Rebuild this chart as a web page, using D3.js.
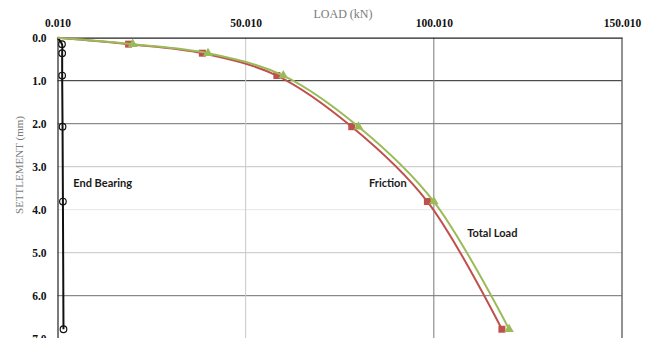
<!DOCTYPE html>
<html>
<head>
<meta charset="utf-8">
<script src="https://cdn.jsdelivr.net/npm/d3@7/dist/d3.min.js"></script>
<style>
  html, body { margin: 0; padding: 0; background: #fff; }
  svg { display: block; }
</style>
</head>
<body>
<svg id="chart" width="656" height="338"></svg>
<script>
// Load-settlement readings (load in kN, settlement in mm)
const settlement = [0, 0.15, 0.36, 0.88, 2.07, 3.81, 6.78];
const endBearing = [0, 1.2, 1.25, 1.25, 1.35, 1.45, 1.6];
const friction   = [0, 18.9, 38.5, 58.3, 78.2, 98.3, 118.1];
const totalLoad  = [0, 20, 40, 60, 80, 100, 120];

const xTicks = [0.01, 50.01, 100.01, 150.01];
const yTicks = [0, 1, 2, 3, 4, 5, 6, 7];

const svg = d3.select("#chart");
const plotLeft = 57.5, plotRight = 622, plotTop = 37.7, plotBottom = 338.7;

const x = d3.scaleLinear().domain([0.01, 150.01]).range([plotLeft, plotRight]);
const y = d3.scaleLinear().domain([0, 7]).range([plotTop, plotBottom]);

// Gridlines (shade varies slightly line to line)
const hShade = { 1: "#222", 2: "#6e6e6e", 3: "#c4c4c4", 4: "#e6e6e6", 5: "#c4c4c4", 6: "#6e6e6e", 7: "#aaa" };
const grid = svg.append("g");
grid.selectAll("line.h").data(yTicks.slice(1)).join("line")
  .attr("x1", plotLeft).attr("x2", plotRight)
  .attr("y1", d => y(d)).attr("y2", d => y(d))
  .attr("stroke", d => hShade[d]).attr("stroke-width", 1);
grid.selectAll("line.v").data(xTicks.slice(1)).join("line")
  .attr("y1", plotTop).attr("y2", plotBottom)
  .attr("x1", d => x(d)).attr("x2", d => x(d))
  .attr("stroke", d => d === 50.01 ? "#c8c8c8" : "#7a7a7a").attr("stroke-width", 1);

// Axes (x on top, settlement increasing downward)
const xAxis = svg.append("g").attr("transform", `translate(0,${plotTop})`)
  .call(d3.axisTop(x).tickValues(xTicks).tickFormat(d3.format(".3f")).tickSize(0).tickPadding(11));
xAxis.select(".domain").attr("stroke", "#222").attr("stroke-width", 1.2);
xAxis.selectAll("text").attr("font-family", "'Liberation Serif', serif")
  .attr("font-weight", "bold").attr("font-size", 11.5).attr("fill", "#111");

const yAxis = svg.append("g").attr("transform", `translate(${plotLeft},0)`)
  .call(d3.axisLeft(y).tickValues(yTicks).tickFormat(d3.format(".1f")).tickSize(0).tickPadding(11));
yAxis.select(".domain").attr("stroke", "#222").attr("stroke-width", 1.2);
yAxis.selectAll("text").attr("font-family", "'Liberation Serif', serif")
  .attr("font-weight", "bold").attr("font-size", 11.5).attr("fill", "#111");

// Right border
svg.append("line").attr("x1", plotRight).attr("x2", plotRight).attr("y1", plotTop).attr("y2", plotBottom)
  .attr("stroke", "#666").attr("stroke-width", 1);

// Axis titles
svg.append("text").attr("x", 343).attr("y", 18).attr("text-anchor", "middle")
  .attr("font-family", "'Liberation Serif', serif").attr("font-size", 12).attr("fill", "#7a7a7a")
  .text("LOAD (kN)");
svg.append("text").attr("transform", "translate(23,165) rotate(-90)").attr("text-anchor", "middle")
  .attr("font-family", "'Liberation Serif', serif").attr("font-size", 11).attr("fill", "#7a7a7a")
  .text("SETTLEMENT (mm)");

// Series
const series = [
  { name: "End Bearing", loads: endBearing, color: "#111", marker: "circle" },
  { name: "Friction", loads: friction, color: "#c0504d", marker: "square" },
  { name: "Total Load", loads: totalLoad, color: "#9bbb59", marker: "triangle" }
];

const line = d3.line().curve(d3.curveCatmullRom.alpha(0.5))
  .x(d => x(d[0])).y(d => y(d[1]));

series.forEach(s => {
  const pts = s.loads.map((v, i) => [v, settlement[i]]);
  svg.append("path").datum(pts).attr("d", line)
    .attr("fill", "none").attr("stroke", s.color).attr("stroke-width", 2);
  const g = svg.append("g");
  const marks = pts.slice(1);
  if (s.marker === "circle") {
    g.selectAll("circle").data(marks).join("circle")
      .attr("cx", d => x(d[0])).attr("cy", d => y(d[1])).attr("r", 3.3)
      .attr("fill", "none").attr("stroke", s.color).attr("stroke-width", 1.2);
  } else if (s.marker === "square") {
    g.selectAll("rect").data(marks).join("rect")
      .attr("x", d => x(d[0]) - 3.5).attr("y", d => y(d[1]) - 3.5)
      .attr("width", 7).attr("height", 7).attr("fill", s.color);
  } else {
    const tri = d3.symbol().type(d3.symbolTriangle).size(40);
    g.selectAll("path").data(marks).join("path")
      .attr("transform", d => `translate(${x(d[0])},${y(d[1])})`)
      .attr("d", tri).attr("fill", s.color);
  }
});

// Series annotations
const notes = [
  { text: "End Bearing", load: 4.2, s: 3.48 },
  { text: "Friction", load: 82.8, s: 3.47 },
  { text: "Total Load", load: 108.9, s: 4.64 }
];
svg.selectAll("text.note").data(notes).join("text").attr("class", "note")
  .attr("x", d => x(d.load)).attr("y", d => y(d.s))
  .attr("font-family", "Lato, 'Liberation Sans', sans-serif").attr("font-weight", "bold")
  .attr("font-size", 11).attr("fill", "#1a1a1a")
  .text(d => d.text);
</script>
</body>
</html>
